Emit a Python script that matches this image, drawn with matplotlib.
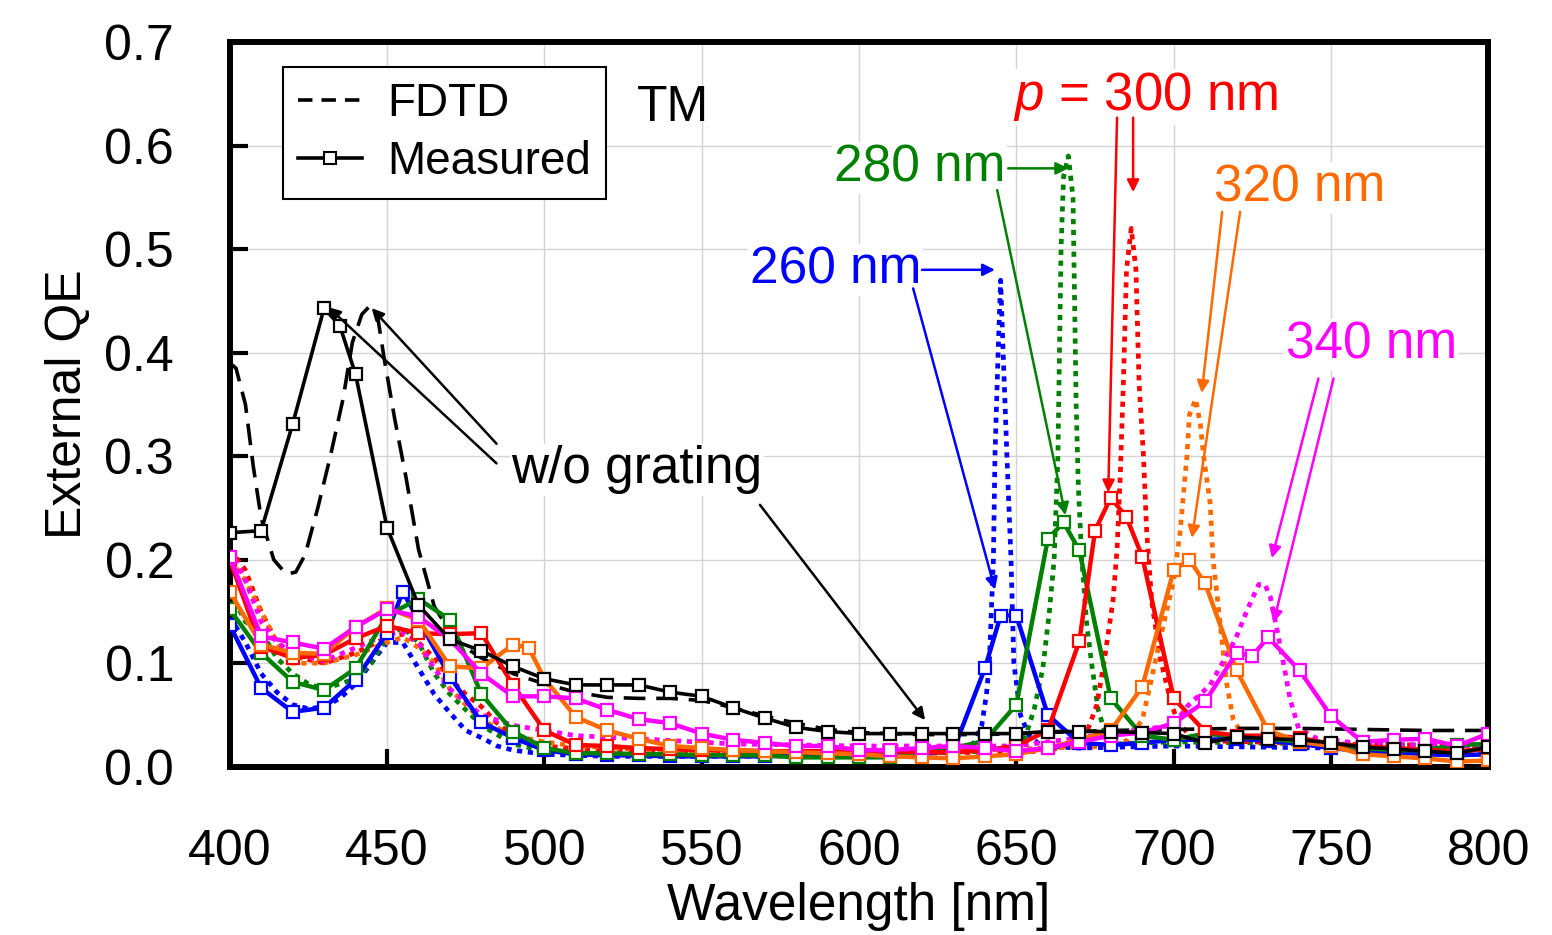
import matplotlib
matplotlib.use("Agg")
import matplotlib.pyplot as plt
from matplotlib.lines import Line2D

plt.rcParams['font.family'] = ['Liberation Sans', 'DejaVu Sans']
plt.rcParams['mathtext.fontset'] = 'custom'
plt.rcParams['mathtext.rm'] = 'Liberation Sans'
plt.rcParams['mathtext.it'] = 'Liberation Sans:italic'

# ---- measured data (squares) ----
wl_bare = [400, 410, 420, 430, 435, 440, 450, 460, 470, 480, 490, 500, 510, 520, 530, 540, 550,
           560, 570, 580, 590, 600, 610, 620, 630, 640, 650, 660, 670, 680, 690, 700, 710, 720,
           730, 740, 750, 760, 770, 780, 790, 800]
qe_bare = [0.226, 0.228, 0.331, 0.443, 0.426, 0.379, 0.231, 0.156, 0.123, 0.112, 0.097, 0.085,
           0.079, 0.079, 0.079, 0.072, 0.068, 0.057, 0.047, 0.038, 0.034, 0.032, 0.032, 0.032,
           0.032, 0.032, 0.032, 0.034, 0.034, 0.034, 0.033, 0.032, 0.023, 0.029, 0.027, 0.026,
           0.023, 0.019, 0.017, 0.015, 0.013, 0.019]

wl_260 = [400, 410, 420, 430, 440, 450, 455, 470, 480, 490, 500, 510, 520, 530, 540, 550, 560,
          570, 580, 590, 600, 610, 620, 630, 640, 645, 650, 660, 670, 680, 690, 700, 710, 720,
          730, 740, 750, 760, 770, 780, 790, 800]
qe_260 = [0.137, 0.076, 0.053, 0.057, 0.084, 0.129, 0.169, 0.087, 0.043, 0.028, 0.016, 0.012,
          0.011, 0.011, 0.010, 0.010, 0.010, 0.010, 0.011, 0.011, 0.011, 0.011, 0.012, 0.016,
          0.095, 0.146, 0.146, 0.050, 0.023, 0.021, 0.023, 0.026, 0.026, 0.027, 0.025, 0.022,
          0.018, 0.015, 0.014, 0.012, 0.011, 0.012]

wl_280 = [400, 410, 420, 430, 440, 450, 460, 470, 480, 490, 500, 510, 520, 530, 540, 550, 560,
          570, 580, 590, 600, 610, 620, 630, 640, 650, 660, 665, 670, 680, 690, 700, 710, 720,
          730, 740, 750, 760, 770, 780, 790, 800]
qe_280 = [0.152, 0.110, 0.082, 0.074, 0.095, 0.146, 0.162, 0.142, 0.070, 0.034, 0.018, 0.013,
          0.013, 0.012, 0.012, 0.011, 0.011, 0.011, 0.009, 0.009, 0.009, 0.009, 0.013, 0.018,
          0.025, 0.060, 0.220, 0.236, 0.209, 0.066, 0.030, 0.026, 0.032, 0.029, 0.027, 0.024,
          0.021, 0.018, 0.016, 0.016, 0.021, 0.022]

wl_300 = [400, 410, 420, 430, 440, 450, 460, 470, 480, 490, 500, 510, 520, 530, 540, 550, 560,
          570, 580, 590, 600, 610, 620, 630, 640, 650, 660, 670, 675, 680, 685, 690, 700, 710,
          720, 730, 740, 750, 760, 770, 780, 790, 800]
qe_300 = [0.200, 0.116, 0.105, 0.108, 0.124, 0.136, 0.129, 0.128, 0.129, 0.079, 0.035, 0.021,
          0.020, 0.018, 0.017, 0.016, 0.016, 0.015, 0.015, 0.015, 0.015, 0.015, 0.014, 0.014,
          0.016, 0.020, 0.035, 0.121, 0.228, 0.260, 0.241, 0.203, 0.066, 0.034, 0.030, 0.030,
          0.028, 0.022, 0.020, 0.018, 0.016, 0.015, 0.017]

wl_320 = [400, 410, 420, 430, 440, 450, 460, 470, 480, 490, 495, 500, 510, 520, 530, 540, 550,
          560, 570, 580, 590, 600, 610, 620, 630, 640, 650, 660, 670, 680, 690, 700, 705, 710,
          720, 730, 740, 750, 760, 770, 780, 790, 800]
qe_320 = [0.169, 0.118, 0.110, 0.109, 0.135, 0.153, 0.142, 0.097, 0.095, 0.118, 0.115, 0.085,
          0.048, 0.035, 0.027, 0.020, 0.018, 0.016, 0.015, 0.014, 0.013, 0.012, 0.010, 0.009,
          0.008, 0.010, 0.012, 0.018, 0.026, 0.035, 0.077, 0.190, 0.200, 0.177, 0.093, 0.035,
          0.024, 0.020, 0.012, 0.010, 0.008, 0.005, 0.006]

wl_340 = [400, 410, 420, 430, 440, 450, 460, 470, 480, 490, 500, 510, 520, 530, 540, 550, 560,
          570, 580, 590, 600, 610, 620, 630, 640, 650, 660, 670, 680, 690, 700, 710, 720, 725,
          730, 740, 750, 760, 770, 780, 790, 800]
qe_340 = [0.203, 0.126, 0.120, 0.114, 0.135, 0.152, 0.145, 0.123, 0.090, 0.068, 0.068, 0.066,
          0.055, 0.046, 0.042, 0.032, 0.026, 0.023, 0.020, 0.020, 0.016, 0.016, 0.018, 0.020,
          0.018, 0.015, 0.018, 0.024, 0.030, 0.033, 0.042, 0.063, 0.110, 0.107, 0.125, 0.093,
          0.049, 0.024, 0.026, 0.027, 0.020, 0.032]

# ---- FDTD data (lines) ----
fd_wl_bare = [400, 402, 405, 407.5, 410, 414, 418, 421, 424, 428, 432, 436, 439, 442, 444.5,
              447, 449, 452.5, 456, 460, 465, 470, 475, 480, 490, 500, 510, 520, 530, 540, 550,
              560, 570, 580, 590, 600, 620, 640, 660, 680, 700, 720, 740, 760, 780, 800]
fd_qe_bare = [0.390, 0.385, 0.350, 0.290, 0.240, 0.200, 0.186, 0.188, 0.205, 0.250, 0.300,
              0.355, 0.410, 0.437, 0.445, 0.435, 0.396, 0.335, 0.280, 0.210, 0.155, 0.130,
              0.115, 0.105, 0.090, 0.080, 0.072, 0.067, 0.066, 0.066, 0.064, 0.057, 0.049,
              0.042, 0.036, 0.033, 0.031, 0.031, 0.033, 0.035, 0.036, 0.037, 0.037, 0.036,
              0.035, 0.035]

fd_wl_260 = [400, 405, 410, 415, 420, 425, 430, 435, 440, 445, 450, 455, 460, 465, 470, 475,
             480, 485, 490, 500, 520, 560, 600, 620, 630, 636, 639, 640.5, 641.4, 642.7, 643.2,
             644.2, 645, 645.8, 647, 648.3, 649.2, 651.3, 654, 658, 670, 700, 750, 800]
fd_qe_260 = [0.145, 0.120, 0.090, 0.072, 0.060, 0.056, 0.058, 0.066, 0.080, 0.100, 0.120,
             0.120, 0.095, 0.070, 0.052, 0.035, 0.028, 0.020, 0.016, 0.012, 0.010, 0.010,
             0.011, 0.013, 0.016, 0.020, 0.040, 0.070, 0.100, 0.200, 0.300, 0.400, 0.470,
             0.400, 0.300, 0.200, 0.100, 0.050, 0.030, 0.020, 0.018, 0.020, 0.018, 0.015]

fd_wl_280 = [400, 405, 410, 415, 420, 425, 430, 440, 445, 450, 455, 460, 465, 470, 480, 490,
             500, 520, 600, 640, 650, 653, 655.7, 658.4, 660.5, 662, 663.2, 663.7, 664.2, 665,
             666.5, 668, 668.5, 669, 669.7, 670.8, 672.3, 673.9, 676, 678, 682, 700, 750, 800]
fd_qe_280 = [0.170, 0.140, 0.130, 0.105, 0.090, 0.080, 0.075, 0.085, 0.100, 0.125, 0.135,
             0.120, 0.090, 0.070, 0.040, 0.022, 0.015, 0.012, 0.011, 0.015, 0.020, 0.030,
             0.056, 0.095, 0.150, 0.200, 0.300, 0.400, 0.500, 0.570, 0.590, 0.550, 0.450,
             0.350, 0.270, 0.200, 0.140, 0.100, 0.055, 0.035, 0.022, 0.024, 0.022, 0.020]

fd_wl_300 = [400, 405, 410, 415, 420, 430, 440, 450, 455, 460, 465, 470, 475, 480, 485, 490,
             500, 520, 600, 660, 665, 672, 675.6, 677.8, 680.7, 682, 683, 684, 685, 686.5, 688,
             689, 690.4, 691.4, 693, 695.7, 698.9, 701, 705, 712, 750, 800]
fd_qe_300 = [0.210, 0.190, 0.150, 0.120, 0.107, 0.100, 0.110, 0.125, 0.128, 0.120, 0.105,
             0.085, 0.070, 0.058, 0.042, 0.030, 0.020, 0.015, 0.012, 0.015, 0.020, 0.030,
             0.060, 0.100, 0.160, 0.210, 0.280, 0.370, 0.480, 0.520, 0.480, 0.370, 0.300,
             0.228, 0.160, 0.105, 0.065, 0.045, 0.030, 0.025, 0.022, 0.020]

fd_wl_320 = [400, 405, 410, 415, 420, 430, 440, 450, 455, 460, 465, 470, 475, 480, 490, 500,
             510, 540, 600, 680, 685, 690, 692.6, 696.2, 700, 702, 704.2, 705, 707, 708.5,
             709.5, 711.6, 712.5, 713.7, 715.2, 716.8, 718.9, 722, 730, 760, 800]
fd_qe_320 = [0.200, 0.180, 0.150, 0.120, 0.100, 0.100, 0.108, 0.120, 0.125, 0.115, 0.100,
             0.075, 0.060, 0.045, 0.030, 0.024, 0.020, 0.015, 0.012, 0.020, 0.025, 0.045,
             0.080, 0.130, 0.180, 0.226, 0.300, 0.340, 0.355, 0.330, 0.300, 0.254, 0.200,
             0.168, 0.126, 0.081, 0.046, 0.030, 0.025, 0.018, 0.015]

fd_wl_340 = [400, 405, 410, 415, 420, 430, 440, 450, 455, 460, 465, 470, 480, 490, 500, 510,
             530, 560, 600, 650, 700, 704.2, 711.6, 719.6, 723.3, 727, 729, 730.7, 733, 735.5,
             737, 739.7, 745, 760, 800]
fd_qe_340 = [0.210, 0.180, 0.140, 0.120, 0.110, 0.102, 0.115, 0.128, 0.130, 0.120, 0.095,
             0.075, 0.050, 0.040, 0.035, 0.030, 0.027, 0.022, 0.020, 0.020, 0.040, 0.058,
             0.079, 0.123, 0.151, 0.176, 0.176, 0.164, 0.130, 0.090, 0.065, 0.037, 0.028,
             0.022, 0.020]

periods = ['260', '280', '300', '320', '340']
colors = {'260': '#0000FF', '280': '#008000', '300': '#FF0000', '320': '#FF6A00', '340': '#FF00FF'}
meas = {'260': (wl_260, qe_260), '280': (wl_280, qe_280), '300': (wl_300, qe_300),
        '320': (wl_320, qe_320), '340': (wl_340, qe_340)}
fdtd = {'260': (fd_wl_260, fd_qe_260), '280': (fd_wl_280, fd_qe_280),
        '300': (fd_wl_300, fd_qe_300), '320': (fd_wl_320, fd_qe_320),
        '340': (fd_wl_340, fd_qe_340)}

fig = plt.figure(figsize=(15.52, 9.35), dpi=100)
ax = fig.add_axes([0.148, 0.180, 0.811, 0.775])

# FDTD dotted
for p in periods:
    ax.plot(fdtd[p][0], fdtd[p][1], color=colors[p], lw=3.4, ls=(0, (1.1, 1.2)), zorder=2)
ax.plot(fd_wl_bare, fd_qe_bare, color='black', lw=2.6, ls=(0, (6, 3)), zorder=2)

# measured
for p in periods:
    ax.plot(meas[p][0], meas[p][1], color=colors[p], lw=3.2, marker='s', ms=9,
            mfc='white', mec=colors[p], mew=1.6, zorder=3)
ax.plot(wl_bare, qe_bare, color='black', lw=2.6, marker='s', ms=9,
        mfc='white', mec='black', mew=1.6, zorder=4)

ax.set_xlim(400, 800)
ax.set_ylim(0, 0.7)
ax.set_xticks(range(400, 801, 50))
ax.set_yticks([i / 10 for i in range(8)])
ax.set_yticklabels([f"{i / 10:.1f}" for i in range(8)])
ax.grid(True, color='#d4d4d4', lw=1.0, zorder=0)
ax.set_axisbelow(True)
for s in ax.spines.values():
    s.set_linewidth(4.3)
ax.tick_params(axis='both', direction='in', length=13, width=3, labelsize=36)
ax.tick_params(axis='y', pad=40)
ax.tick_params(axis='x', pad=45)
ax.set_xlabel("Wavelength [nm]", fontsize=37, labelpad=5)
ax.set_ylabel("External QE", fontsize=36, labelpad=10)

# legend
handles = [Line2D([], [], color='black', lw=2.6, ls=(0, (4, 2.5))),
           Line2D([], [], color='black', lw=2.6, marker='s', ms=8, mfc='white', mew=1.5)]
leg = ax.legend(handles, ['FDTD', 'Measured'], loc='upper left',
                bbox_to_anchor=(0.042, 0.9655), borderaxespad=0, fontsize=33,
                fancybox=False, framealpha=1, edgecolor='black', handlelength=1.4,
                handletextpad=0.55, labelspacing=0.3, borderpad=0.33)
leg.get_frame().set_linewidth(1.5)

box = dict(facecolor='white', edgecolor='none', pad=1)
ax.text(540.9, 0.636, "TM", fontsize=36, ha='center', va='center')


def arrow(x0, y0, x1, y1, c):
    ax.annotate('', xy=(x1, y1), xytext=(x0, y0),
                arrowprops=dict(arrowstyle='-|>', color=c, lw=1.8, mutation_scale=18,
                                shrinkA=0, shrinkB=0), zorder=5)


c = colors['260']
ax.text(619.7, 0.48, "260 nm", color=c, fontsize=37, ha='right', va='center', bbox=box, zorder=5)
arrow(620.0, 0.48, 643.2, 0.48, c)
arrow(617.2, 0.462, 643.2, 0.171, c)

c = colors['280']
ax.text(646.4, 0.578, "280 nm", color=c, fontsize=37, ha='right', va='center', bbox=box, zorder=5)
arrow(647.4, 0.578, 666.5, 0.578, c)
arrow(643.9, 0.557, 665.6, 0.243, c)

c = colors['300']
ax.text(691.0, 0.647, "$p$ = 300 nm", color=c, fontsize=38, ha='center', va='center', bbox=box, zorder=5)
arrow(682.0, 0.627, 679.2, 0.265, c)
arrow(687.1, 0.627, 687.1, 0.555, c)

c = colors['320']
ax.text(739.9, 0.559, "320 nm", color=c, fontsize=37, ha='center', va='center', bbox=box, zorder=5)
arrow(715.4, 0.536, 708.9, 0.361, c)
arrow(721.1, 0.536, 705.8, 0.221, c)

c = colors['340']
ax.text(762.8, 0.407, "340 nm", color=c, fontsize=37, ha='center', va='center', bbox=box, zorder=5)
arrow(746.0, 0.375, 731.2, 0.2015, c)
arrow(750.8, 0.375, 731.7, 0.139, c)

ax.text(529.4, 0.287, "w/o grating", color='black', fontsize=37, ha='center', va='center',
        bbox=box, zorder=5)
arrow(484.8, 0.312, 445.1, 0.443, 'black')
arrow(484.8, 0.293, 431.3, 0.444, 'black')
arrow(568.5, 0.253, 621.0, 0.045, 'black')

fig.savefig("out.png", dpi=100)
